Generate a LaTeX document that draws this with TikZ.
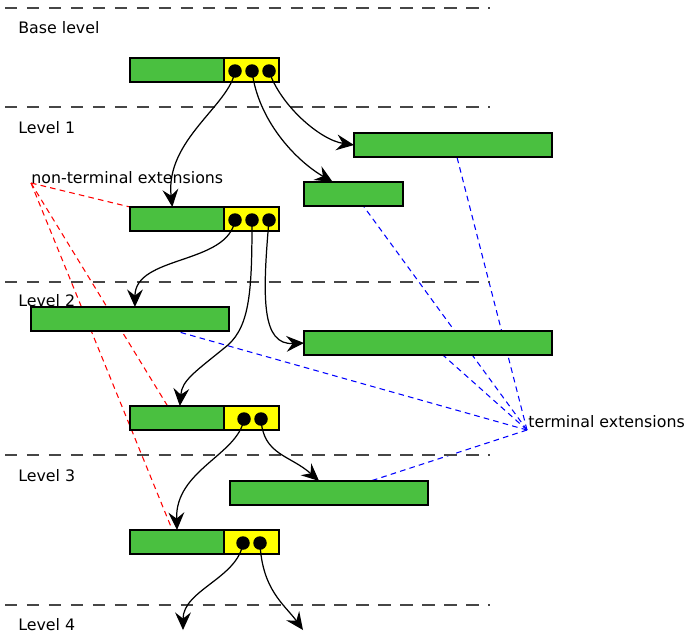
\documentclass[tikz,border=0pt]{standalone}
\usepackage{fontspec}
\setmainfont{DejaVu Sans}
\usetikzlibrary{arrows.meta,positioning,calc,backgrounds}
\definecolor{keygreen}{RGB}{74,192,64}
\definecolor{ptryellow}{RGB}{255,255,0}
\definecolor{levelgray}{RGB}{70,70,70}

\tikzset{
  cell/.style={draw=black,line width=0.7pt,inner sep=0pt,outer sep=0pt,minimum height=0.48cm},
  keypart/.style={cell,fill=keygreen},
  ptrpart/.style={cell,fill=ptryellow,minimum width=1.1cm},
  ptr/.style={circle,fill=black,inner sep=0pt,outer sep=0pt,minimum size=0.27cm},
  child/.style={-{Stealth[length=10pt,width=9pt,inset=3.5pt]},line width=0.7pt},
  levelsep/.style={levelgray,line width=0.85pt,dash pattern=on 7pt off 5.5pt},
  nonterm/.style={red,line width=0.6pt,dash pattern=on 3.2pt off 2.4pt},
  term/.style={blue,line width=0.6pt,dash pattern=on 3.2pt off 2.4pt},
  lbl/.style={font=\fontsize{9}{11}\selectfont,inner sep=0pt}
}

\begin{document}
\begin{tikzpicture}[x=0.02cm,y=-0.02cm]
        \useasboundingbox (0,0) rectangle (685,632);
        % level separators
        \foreach \yy in {8,107,282,455,605}
          \draw[levelsep] (5,\yy) -- (490,\yy);
        \foreach \yy/\txt in {33/Base level,133/Level 1,306/Level 2,481/Level 3,630/Level 4}
          \node[lbl,anchor=base west] at (18,\yy) {\txt};
        % base level
        \node[keypart,minimum width=1.88cm,anchor=north west] (b0g) at (130,58) {};
        \node[ptrpart,right=0pt of b0g] (b0y) {};
        \node[ptr] (b0d1) at (235,71) {};
        \node[ptr] (b0d2) at (252,71) {};
        \node[ptr] (b0d3) at (269,71) {};
        % level 1
        \node[keypart,minimum width=3.96cm,anchor=north west] (l1a) at (354,133) {};
        \node[keypart,minimum width=1.98cm,anchor=north west] (l1b) at (304,182) {};
        \node[keypart,minimum width=1.88cm,anchor=north west] (r1g) at (130,207) {};
        \node[ptrpart,right=0pt of r1g] (r1y) {};
        \node[ptr] (r1d1) at (235,220) {};
        \node[ptr] (r1d2) at (252,220) {};
        \node[ptr] (r1d3) at (269,220) {};
        % level 2
        \node[keypart,minimum width=3.96cm,anchor=north west] (l2a) at (31,307) {};
        \node[keypart,minimum width=4.96cm,anchor=north west] (l2b) at (304,331) {};
        \node[keypart,minimum width=1.88cm,anchor=north west] (r2g) at (130,406) {};
        \node[ptrpart,right=0pt of r2g] (r2y) {};
        \node[ptr] (r2d1) at (244,419) {};
        \node[ptr] (r2d2) at (261,419) {};
        % level 3
        \node[keypart,minimum width=3.96cm,anchor=north west] (l3a) at (230,481) {};
        \node[keypart,minimum width=1.88cm,anchor=north west] (r3g) at (130,530) {};
        \node[ptrpart,right=0pt of r3g] (r3y) {};
        \node[ptr] (r3d1) at (243,543) {};
        \node[ptr] (r3d2) at (260,543) {};
        \coordinate (l4a) at (183,630);
        \coordinate (l4b) at (303,630);
        % labels
        \node[lbl,anchor=base west] (ntlabel) at (31,183) {non-terminal extensions};
        \node[lbl,anchor=base west] (tlabel) at (528,427) {terminal extensions};
        \coordinate (nt) at (31,183);
        \coordinate (te) at (527,430);
        \begin{scope}[on background layer]
          \draw[nonterm] (nt) -- (r1g.north west);
          \draw[nonterm] (nt) -- ($(r2g.north west)!0.4!(r2g.north east)$);
          \draw[nonterm] (nt) -- ($(r3g.north west)!0.45!(r3g.north east)$);
          \draw[term] (te) -- ($(l1a.south west)!0.52!(l1a.south east)$);
          \draw[term] (te) -- ($(l1b.south west)!0.6!(l1b.south east)$);
          \draw[term] (te) -- ($(l2a.south west)!0.73!(l2a.south east)$);
          \draw[term] (te) -- ($(l2b.south west)!0.56!(l2b.south east)$);
          \draw[term] (te) -- ($(l3a.north west)!0.71!(l3a.north east)$);
        \end{scope}
        % children
        \draw[child] (b0d1.center) .. controls (230,105) and (165,140) .. ($(r1g.north west)!0.45!(r1g.north east)$);
        \draw[child] (b0d2.center) .. controls (258,120) and (295,160) .. ($(l1b.north west)!0.29!(l1b.north east)$);
        \draw[child] (b0d3.center) .. controls (280,105) and (320,140) .. (l1a.west);
        \draw[child] (r1d1.center) .. controls (228,265) and (135,255) .. ($(l2a.north west)!0.525!(l2a.north east)$);
        \draw[child] (r1d2.center) .. controls (252,290) and (250,325) .. (228,345)
                     .. controls (195,372) and (182,380) .. ($(r2g.north west)!0.53!(r2g.north east)$);
        \draw[child] (r1d3.center) .. controls (262,300) and (262,345) .. (l2b.west);
        \draw[child] (r2d1.center) .. controls (238,455) and (175,470) .. (r3g.north);
        \draw[child] (r2d2.center) .. controls (263,455) and (290,455) .. ($(l3a.north west)!0.45!(l3a.north east)$);
        \draw[child] (r3d1.center) .. controls (238,578) and (183,590) .. (l4a);
        \draw[child] (r3d2.center) .. controls (262,590) and (285,605) .. (l4b);
      \end{tikzpicture}
\end{document}
